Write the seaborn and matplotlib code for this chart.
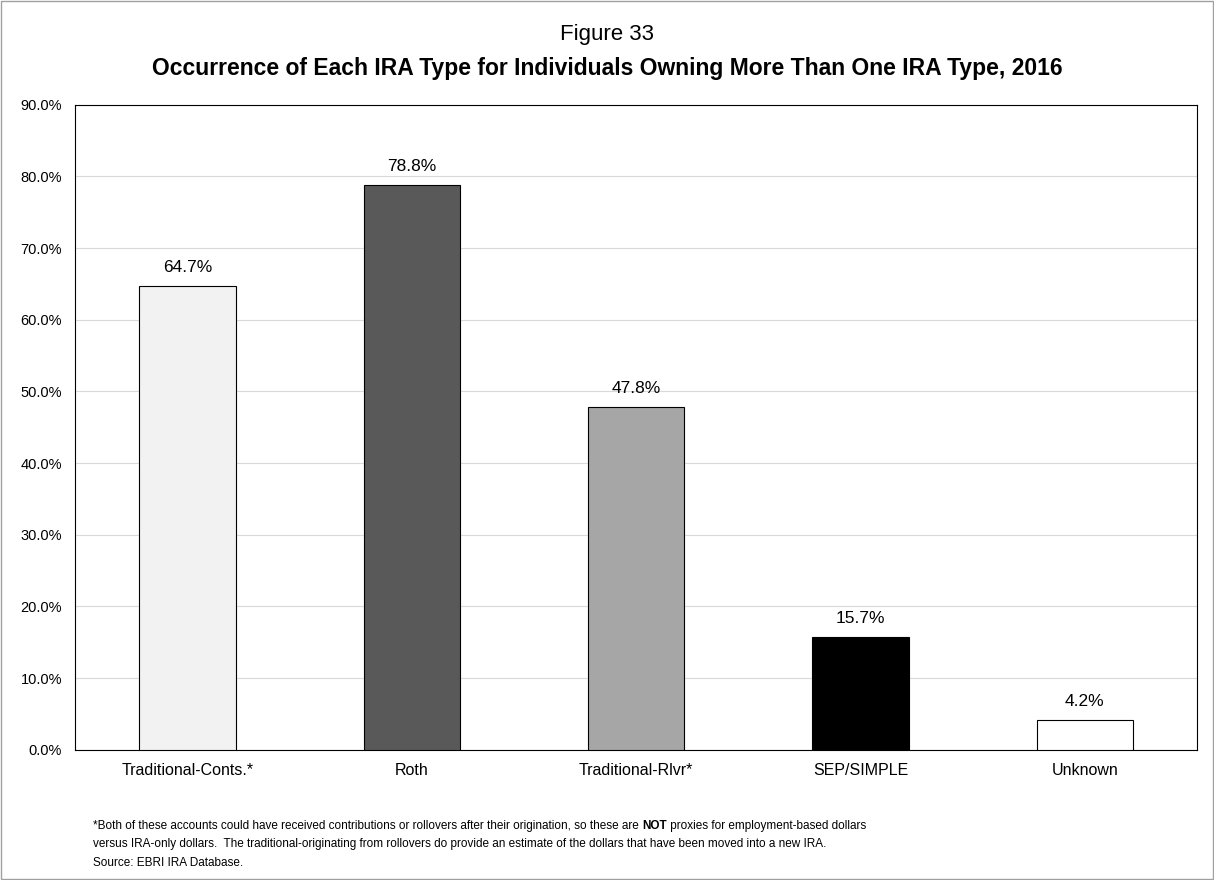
import matplotlib
matplotlib.use("Agg")
import matplotlib.pyplot as plt
import seaborn as sns
import pandas as pd
from matplotlib.patches import Rectangle
from matplotlib.text import Annotation

# Data
categories = ['Traditional-Conts.*', 'Roth', 'Traditional-Rlvr*', 'SEP/SIMPLE', 'Unknown']
values = [64.7, 78.8, 47.8, 15.7, 4.2]
bar_colors = ['#f2f2f2', '#595959', '#a6a6a6', '#000000', '#ffffff']
yticks = [0, 10, 20, 30, 40, 50, 60, 70, 80, 90]

sns.set_theme(style="white")
plt.rcParams['font.family'] = ['Liberation Sans', 'DejaVu Sans']
plt.rcParams['text.color'] = 'black'
plt.rcParams['xtick.color'] = 'black'
plt.rcParams['ytick.color'] = 'black'

df = pd.DataFrame({'cat': categories, 'val': values})

fig = plt.figure(figsize=(12.14, 8.8), dpi=100)
ax = fig.add_axes([0.062, 0.148, 0.924, 0.733])

sns.barplot(data=df, x='cat', y='val', hue='cat', palette=bar_colors,
            legend=False, width=0.43, edgecolor='black', linewidth=0.8, ax=ax, zorder=3)

ax.set_ylim(0, 90)
ax.set_yticks(yticks)
ax.set_yticklabels([f"{t:.1f}%" for t in yticks], fontsize=10.5)
ax.tick_params(axis='x', labelsize=11.5)
ax.set_xlabel('')
ax.set_ylabel('')
ax.grid(axis='y', color='#d9d9d9', linewidth=0.8, zorder=0)
for s in ax.spines.values():
    s.set_color('black')
    s.set_linewidth(0.8)

for i, v in enumerate(values):
    ax.text(i, v + 1.5, f"{v:.1f}%", ha='center', va='bottom', fontsize=12.5)

fig.text(0.5, 0.955, 'Figure 33', ha='center', fontsize=16)
fig.text(0.5, 0.915, 'Occurrence of Each IRA Type for Individuals Owning More Than One IRA Type, 2016',
         ha='center', fontsize=16.5, fontweight='bold')

# footnote, first line in three pieces so NOT can be bold
fs = 8.5
t1 = fig.text(0.077, 0.058, '*Both of these accounts could have received contributions or rollovers after their origination, so these are ', fontsize=fs)
a2 = fig.add_artist(Annotation('NOT', xy=(1, 0), xycoords=t1, va='bottom', fontsize=fs, fontweight='bold'))
fig.add_artist(Annotation(' proxies for employment-based dollars', xy=(1, 0), xycoords=a2, va='bottom', fontsize=fs))
fig.text(0.077, 0.037, 'versus IRA-only dollars.  The traditional-originating from rollovers do provide an estimate of the dollars that have been moved into a new IRA.', fontsize=fs)
fig.text(0.077, 0.016, 'Source: EBRI IRA Database.', fontsize=fs)

fig.patches.append(Rectangle((0.001, 0.001), 0.998, 0.998, transform=fig.transFigure,
                             fill=False, edgecolor='#a0a0a0', linewidth=1))

fig.savefig('out.png', dpi=100)
